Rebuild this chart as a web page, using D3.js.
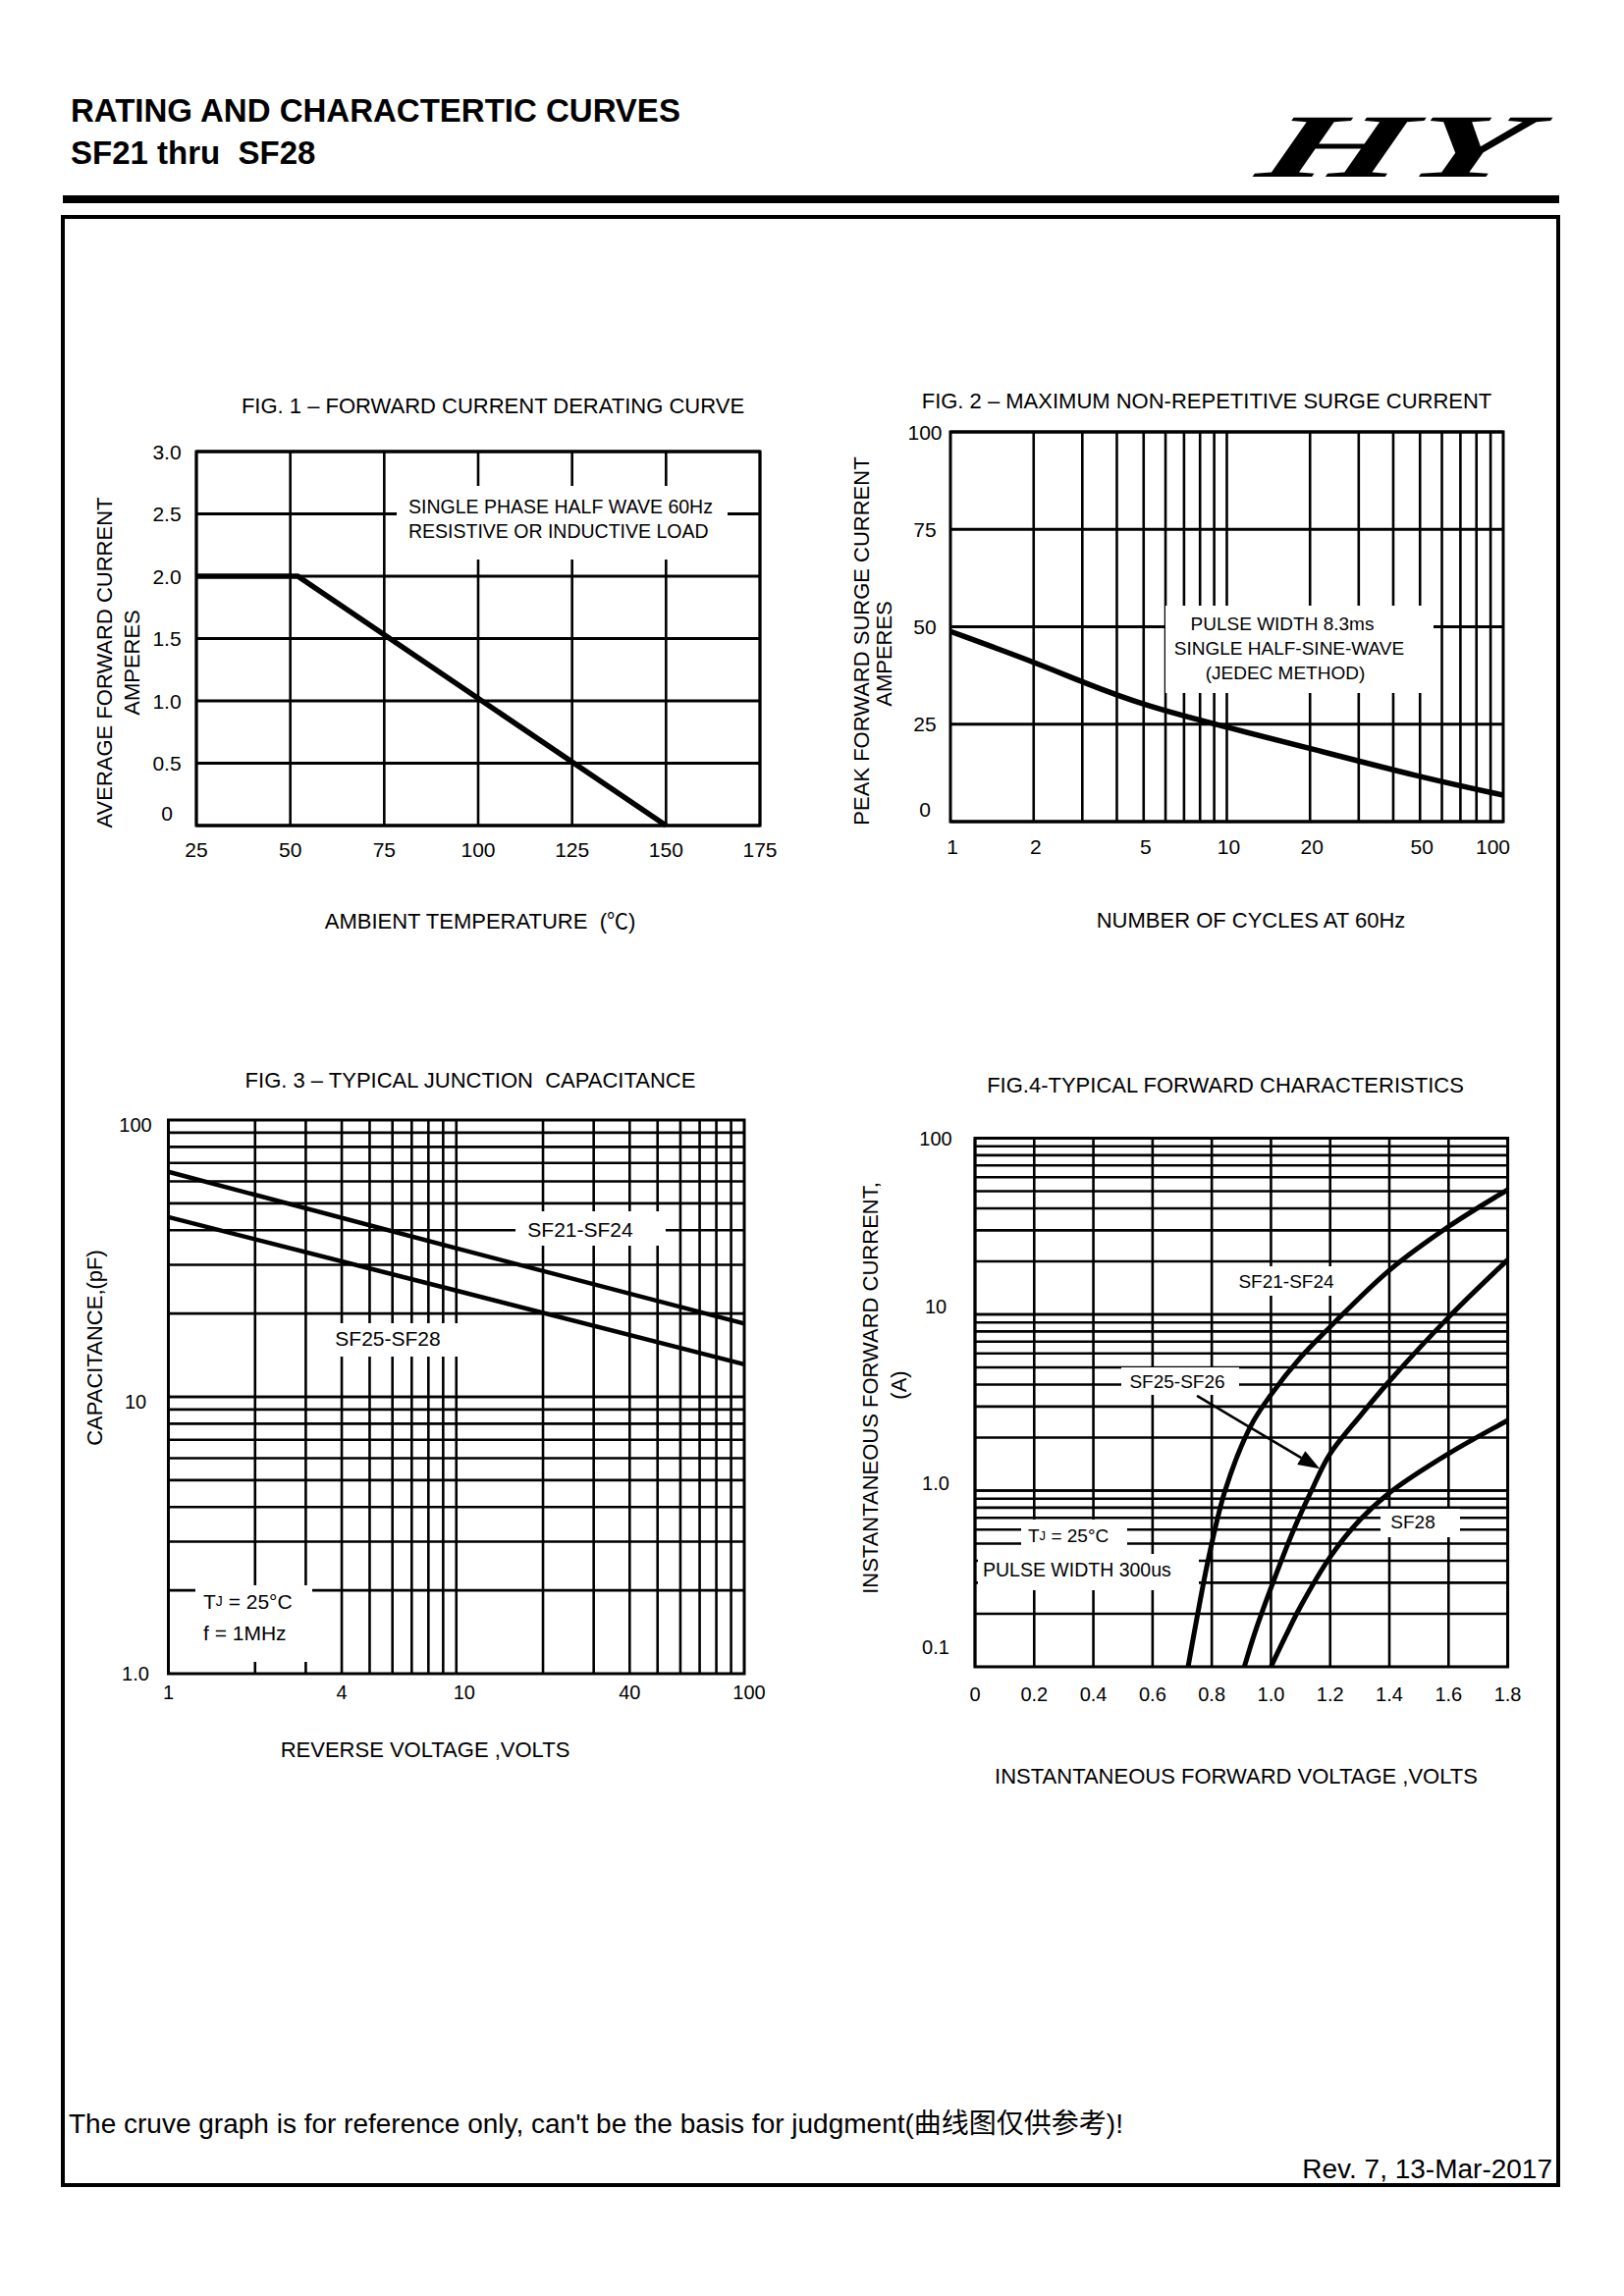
<!DOCTYPE html>
<html><head><meta charset="utf-8">
<script src="https://cdn.jsdelivr.net/npm/d3@7"></script>
<style>
body{margin:0;background:#fff}
text{font-family:"Liberation Sans",Arial,"Noto Sans CJK SC",sans-serif;fill:#000}
</style>
</head><body>
<svg id="c" width="1654" height="2339"></svg>
<script>
// ---------------- DATA ----------------
// Fig 1 forward current derating
const fig1Temp = [25, 52, 150];
const fig1Current = [2.0, 2.0, 0];
const fig1XTicks = [25, 50, 75, 100, 125, 150, 175];
const fig1YTicks = [0, 0.5, 1.0, 1.5, 2.0, 2.5, 3.0];
const fig1YLabels = ["0", "0.5", "1.0", "1.5", "2.0", "2.5", "3.0"];

// Fig 2 surge current
const fig2Cycles = [1, 2, 3, 5, 10, 20, 50, 100];
const fig2Surge = [48.8, 41.0, 35.8, 29.8, 24.2, 18.8, 11.4, 6.8];
const fig2XTicks = [1, 2, 5, 10, 20, 50, 100];
const fig2YTicks = [0, 25, 50, 75, 100];

// Fig 3 junction capacitance
const fig3Voltage = [1, 10, 100];
const fig3SF21 = [65, 34.4, 18.4];
const fig3SF25 = [44.6, 24.2, 13.1];
const fig3XTicks = [1, 4, 10, 40, 100];
const fig3YTicks = [1, 10, 100];
const fig3YLabels = ["1.0", "10", "100"];

// Fig 4 forward characteristics
const fig4SF21V = [0.72, 0.75, 0.79, 0.845, 0.93, 1.0, 1.1, 1.2, 1.4, 1.6, 1.8];
const fig4SF21I = [0.1, 0.19, 0.42, 1.0, 2.3, 3.5, 5.7, 8.5, 17.8, 31.5, 51];
const fig4SF25V = [0.91, 0.945, 1.0, 1.077, 1.137, 1.198, 1.305, 1.396, 1.602, 1.8];
const fig4SF25I = [0.1, 0.155, 0.28, 0.6, 1.0, 1.6, 2.7, 4.1, 9.7, 20.4];
const fig4SF28V = [1.0, 1.05, 1.1, 1.2, 1.3, 1.4, 1.6, 1.8];
const fig4SF28I = [0.1, 0.15, 0.22, 0.42, 0.68, 0.97, 1.62, 2.5];
const fig4XTicks = [0, 0.2, 0.4, 0.6, 0.8, 1.0, 1.2, 1.4, 1.6, 1.8];
const fig4XLabels = ["0", "0.2", "0.4", "0.6", "0.8", "1.0", "1.2", "1.4", "1.6", "1.8"];
const fig4YTicks = [0.1, 1, 10, 100];
const fig4YLabels = ["0.1", "1.0", "10", "100"];
const fig4ArrowFrom = [0.75, 3.45];
const fig4ArrowTo = [1.165, 1.33];

// ---------------- HELPERS ----------------
const svg = d3.select("#c");
svg.append("rect").attr("width", 1654).attr("height", 2339).attr("fill", "#fff");

function T(g, x, y, s, o = {}) {
  const t = g.append("text").attr("x", x).attr("y", y)
    .attr("font-size", o.size || 22)
    .attr("text-anchor", o.anchor || "middle")
    .attr("dominant-baseline", o.base || "central")
    .style("white-space", "pre")
    .text(s);
  if (o.weight) t.attr("font-weight", o.weight);
  if (o.rot) t.attr("transform", `rotate(-90 ${x} ${y})`);
  return t;
}
function logGrid(min, max) {
  const out = [];
  for (let d = Math.pow(10, Math.floor(Math.log10(min))); d < max; d *= 10)
    for (let k = 1; k <= 9; k++) {
      const v = +(k * d).toPrecision(3);
      if (v > min * 1.0001 && v < max * 0.9999) out.push(v);
    }
  return out;
}
function gridV(g, vals, x, y0, y1, w) {
  g.selectAll(null).data(vals).join("line")
    .attr("x1", d => x(d)).attr("x2", d => x(d)).attr("y1", y0).attr("y2", y1)
    .attr("stroke", "#000").attr("stroke-width", w);
}
function gridH(g, vals, y, x0, x1, w) {
  g.selectAll(null).data(vals).join("line")
    .attr("y1", d => y(d)).attr("y2", d => y(d)).attr("x1", x0).attr("x2", x1)
    .attr("stroke", "#000").attr("stroke-width", w);
}
function whiteBox(g, x0, y0, x1, y1) {
  g.append("rect").attr("x", x0).attr("y", y0).attr("width", x1 - x0).attr("height", y1 - y0).attr("fill", "#fff");
}
function frame(g, x0, y0, x1, y1, w) {
  g.append("rect").attr("x", x0).attr("y", y0).attr("width", x1 - x0).attr("height", y1 - y0)
    .attr("fill", "none").attr("stroke", "#000").attr("stroke-width", w);
}
function curve(g, xs, ys, x, y, w, c) {
  const pts = xs.map((v, i) => [v, ys[i]]);
  g.append("path").datum(pts)
    .attr("d", d3.line().x(d => x(d[0])).y(d => y(d[1])).curve(c || d3.curveCatmullRom.alpha(0.5)))
    .attr("fill", "none").attr("stroke", "#000").attr("stroke-width", w)
    .attr("stroke-linejoin", "round");
}

// ---------------- PAGE HEADER ----------------
T(svg, 72, 124, "RATING AND CHARACTERTIC CURVES", {size: 33, anchor: "start", base: "alphabetic", weight: "bold"});
T(svg, 72, 167, "SF21 thru  SF28", {size: 33, anchor: "start", base: "alphabetic", weight: "bold"});
svg.append("text").attr("transform", "translate(1277,180) skewX(-18)")
  .attr("font-weight", "bold").attr("font-style", "italic")
  .attr("font-size", 92).attr("textLength", 270).attr("lengthAdjust", "spacingAndGlyphs")
  .attr("fill", "#111").style("font-family", "'Liberation Serif','DejaVu Serif',serif")
  .text("HY");
svg.append("rect").attr("x", 64).attr("y", 199).attr("width", 1524).attr("height", 8).attr("fill", "#000");
frame(svg, 64, 221, 1587, 2226, 4);

// ---------------- FIG 1 ----------------
{
  const g = svg.append("g");
  const L = 200, R = 774, Tp = 460, B = 841;
  const x = d3.scaleLinear([25, 175], [L, R]);
  const y = d3.scaleLinear([0, 3], [B, Tp]);
  gridV(g, fig1XTicks, x, Tp, B, 2.6);
  gridH(g, fig1YTicks, y, L, R, 2.8);
  whiteBox(g, 404, 495, 741, 570);
  frame(g, L, Tp, R, B, 3);
  curve(g, fig1Temp, fig1Current, x, y, 5.5, d3.curveLinear);
  T(g, 416, 516, "SINGLE PHASE HALF WAVE 60Hz", {size: 19.5, anchor: "start"});
  T(g, 416, 541, "RESISTIVE OR INDUCTIVE LOAD", {size: 19.5, anchor: "start"});
  fig1YTicks.forEach((v, i) => T(g, 170, y(v) - (v === 0 ? 13 : 0), fig1YLabels[i], {size: 21}));
  fig1XTicks.forEach(v => T(g, x(v), 865, String(v), {size: 21}));
  T(g, 502, 413, "FIG. 1 – FORWARD CURRENT DERATING CURVE", {size: 22});
  T(g, 106, 675, "AVERAGE FORWARD CURRENT", {size: 22, rot: true});
  T(g, 134, 675, "AMPERES", {size: 22, rot: true});
  T(g, 489, 938, "AMBIENT TEMPERATURE  (℃)", {size: 22});
}

// ---------------- FIG 2 ----------------
{
  const g = svg.append("g");
  const L = 968, R = 1531, Tp = 440, B = 837;
  const x = d3.scaleLog([1, 100], [L, R]);
  const y = d3.scaleLinear([0, 100], [B, Tp]);
  gridV(g, logGrid(1, 100), x, Tp, B, 2.6);
  gridH(g, fig2YTicks, y, L, R, 3.2);
  whiteBox(g, 1187, 617, 1460, 706);
  frame(g, L, Tp, R, B, 3);
  curve(g, fig2Cycles, fig2Surge, x, y, 5.5, d3.curveBasis);
  T(g, 1306, 635, "PULSE WIDTH 8.3ms", {size: 19});
  T(g, 1313, 660, "SINGLE HALF-SINE-WAVE", {size: 19});
  T(g, 1309, 685, "(JEDEC METHOD)", {size: 19});
  fig2YTicks.forEach(v => T(g, 942, y(v) - (v === 0 ? 13 : 0), String(v), {size: 21}));
  fig2XTicks.forEach((v, i) => {
    if (i === fig2XTicks.length - 1) T(g, x(v) + 7, 862, String(v), {size: 21, anchor: "end"});
    else T(g, x(v) + 2, 862, String(v), {size: 21});
  });
  T(g, 1229, 408, "FIG. 2 – MAXIMUM NON-REPETITIVE SURGE CURRENT", {size: 22});
  T(g, 877, 653, "PEAK FORWARD SURGE CURRENT", {size: 22, rot: true});
  T(g, 900, 666, "AMPERES", {size: 22, rot: true});
  T(g, 1274, 937, "NUMBER OF CYCLES AT 60Hz", {size: 22});
}

// ---------------- FIG 3 ----------------
{
  const g = svg.append("g");
  const L = 171.5, R = 758, Tp = 1141, B = 1705;
  const x = d3.scaleLog([1, 100], [L, R]);
  const y = d3.scaleLog([1, 100], [B, Tp]);
  gridV(g, logGrid(1, 100), x, Tp, B, 2.6);
  gridH(g, logGrid(1, 100).concat([10]), y, L, R, 2.6);
  whiteBox(g, 525, 1234, 678, 1269);
  whiteBox(g, 333, 1348, 470, 1382);
  whiteBox(g, 199, 1615, 318, 1693);
  frame(g, L, Tp, R, B, 3);
  curve(g, fig3Voltage, fig3SF21, x, y, 4.5, d3.curveLinear);
  curve(g, fig3Voltage, fig3SF25, x, y, 4.5, d3.curveLinear);
  T(g, 591, 1252, "SF21-SF24", {size: 21});
  T(g, 395, 1363, "SF25-SF28", {size: 21});
  const tj = T(g, 207, 1631, "", {size: 21, anchor: "start"});
  tj.append("tspan").text("T");
  tj.append("tspan").attr("font-size", 14).text("J");
  tj.append("tspan").text(" = 25°C");
  T(g, 207, 1663, "f = 1MHz", {size: 21, anchor: "start"});
  fig3YTicks.forEach((v, i) => T(g, 138, y(v) + (v === 1 ? 0 : 5), fig3YLabels[i], {size: 20}));
  fig3XTicks.forEach(v => T(g, x(v) + (v === 10 ? 8 : (v === 100 ? 5 : 0)), 1724, String(v), {size: 20}));
  T(g, 479, 1100, "FIG. 3 – TYPICAL JUNCTION  CAPACITANCE", {size: 22});
  T(g, 96, 1373, "CAPACITANCE,(pF)", {size: 22, rot: true});
  T(g, 433, 1782, "REVERSE VOLTAGE ,VOLTS", {size: 22});
}

// ---------------- FIG 4 ----------------
{
  const g = svg.append("g");
  const L = 993, R = 1535.6, Tp = 1159.5, B = 1698;
  const x = d3.scaleLinear([0, 1.8], [L, R]);
  const y = d3.scaleLog([0.1, 100], [B, Tp]);
  gridV(g, fig4XTicks, x, Tp, B, 2.6);
  gridH(g, logGrid(0.1, 100).concat([1, 10]), y, L, R, 2.6);
  whiteBox(g, 1251, 1290, 1381, 1320);
  whiteBox(g, 1142, 1393, 1262, 1421);
  whiteBox(g, 1406, 1537, 1487, 1566);
  whiteBox(g, 1040, 1548, 1148, 1584);
  whiteBox(g, 996, 1583, 1221, 1620);
  frame(g, L, Tp, R, B, 3);
  curve(g, fig4SF21V, fig4SF21I, x, y, 5);
  curve(g, fig4SF25V, fig4SF25I, x, y, 5);
  curve(g, fig4SF28V, fig4SF28I, x, y, 5);
  // arrow
  const ax0 = x(fig4ArrowFrom[0]), ay0 = y(fig4ArrowFrom[1]);
  const ax1 = x(fig4ArrowTo[0]), ay1 = y(fig4ArrowTo[1]);
  const ang = Math.atan2(ay1 - ay0, ax1 - ax0);
  const hl = 22, hw = 8;
  const bx = ax1 - hl * Math.cos(ang), by = ay1 - hl * Math.sin(ang);
  g.append("line").attr("x1", ax0).attr("y1", ay0).attr("x2", bx).attr("y2", by)
    .attr("stroke", "#000").attr("stroke-width", 2.6);
  g.append("path").attr("d", `M${ax1},${ay1}L${bx + hw * Math.sin(ang)},${by - hw * Math.cos(ang)}L${bx - hw * Math.sin(ang)},${by + hw * Math.cos(ang)}Z`)
    .attr("fill", "#000");
  T(g, 1310, 1305, "SF21-SF24", {size: 19});
  T(g, 1199, 1407, "SF25-SF26", {size: 19});
  T(g, 1439, 1550, "SF28", {size: 19});
  const tj = T(g, 1047, 1564, "", {size: 19, anchor: "start"});
  tj.append("tspan").text("T");
  tj.append("tspan").attr("font-size", 13).text("J");
  tj.append("tspan").text(" = 25°C");
  T(g, 1001, 1599, "PULSE WIDTH 300us", {size: 19.5, anchor: "start"});
  fig4YTicks.forEach((v, i) => T(g, 953, y(v) + (v === 100 ? 0 : (v === 0.1 ? -20 : -8)), fig4YLabels[i], {size: 20}));
  fig4XTicks.forEach((v, i) => T(g, x(v), 1726, fig4XLabels[i], {size: 20}));
  T(g, 1248, 1105, "FIG.4-TYPICAL FORWARD CHARACTERISTICS", {size: 22});
  T(g, 886, 1414, "INSTANTANEOUS FORWARD CURRENT,", {size: 22, rot: true});
  T(g, 915, 1411, "(A)", {size: 22, rot: true});
  T(g, 1259, 1809, "INSTANTANEOUS FORWARD VOLTAGE ,VOLTS", {size: 22});
}

// ---------------- FOOTER ----------------
T(svg, 70, 2173, "The cruve graph is for reference only, can't be the basis for judgment(曲线图仅供参考)!", {size: 28, anchor: "start", base: "alphabetic"});
T(svg, 1581, 2219, "Rev. 7, 13-Mar-2017", {size: 28, anchor: "end", base: "alphabetic"});
</script>
</body></html>
